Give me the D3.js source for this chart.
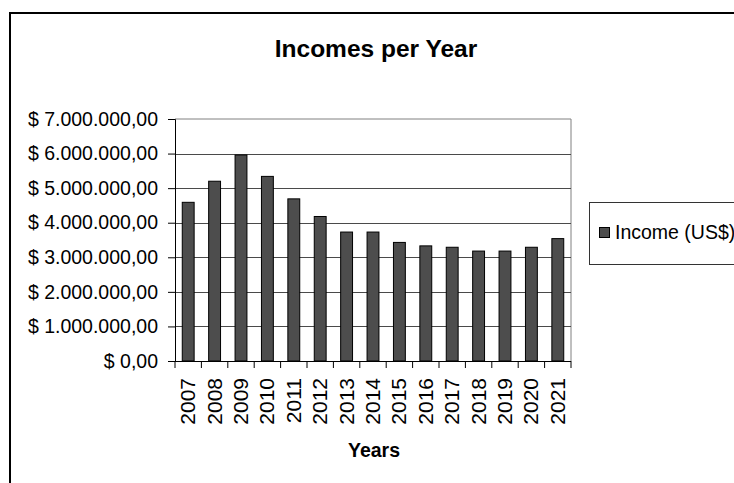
<!DOCTYPE html>
<html>
<head>
<meta charset="utf-8">
<script src="https://cdn.jsdelivr.net/npm/d3@7"></script>
<style>
  html, body { margin: 0; padding: 0; background: #fff; }
  svg { display: block; font-family: "Liberation Sans", Arial, sans-serif; }
</style>
</head>
<body>
<svg id="chart" width="734" height="483"></svg>
<script>
// Yearly income figures (US$)
const years = ["2007", "2008", "2009", "2010", "2011", "2012", "2013", "2014",
               "2015", "2016", "2017", "2018", "2019", "2020", "2021"];
const income = [4590000, 5200000, 5960000, 5340000, 4690000, 4180000, 3730000, 3730000,
                3430000, 3330000, 3290000, 3180000, 3180000, 3290000, 3540000];
const yTicks = [0, 1000000, 2000000, 3000000, 4000000, 5000000, 6000000, 7000000];
const seriesName = "Income (US$)";
const titleText = "Incomes per Year";
const xTitle = "Years";

const svg = d3.select("#chart");
const W = 734, H = 483;
const plot = { left: 175, right: 571, top: 119, bottom: 361 };

// Currency format: "$ 7.000.000,00"
const locale = d3.formatLocale({ decimal: ",", thousands: ".", grouping: [3], currency: ["$ ", ""] });
const fmt = locale.format("$,.2f");

const x = d3.scaleBand().domain(years).range([plot.left, plot.right]).padding(0);
const y = d3.scaleLinear().domain([0, 7000000]).range([plot.bottom, plot.top]);

svg.append("rect").attr("width", W).attr("height", H).attr("fill", "#fff");

// Outer chart frame
svg.append("rect")
  .attr("x", 10).attr("y", 13).attr("width", 740).attr("height", 480)
  .attr("fill", "none").attr("stroke", "#000").attr("stroke-width", 2);

// Title
svg.append("text")
  .attr("x", 376).attr("y", 56.5)
  .attr("text-anchor", "middle")
  .attr("font-size", 24.5).attr("font-weight", "bold")
  .text(titleText);

// Plot area border (top and right in gray)
svg.append("path")
  .attr("d", `M${plot.left},${plot.top}H${plot.right}V${plot.bottom}`)
  .attr("fill", "none").attr("stroke", "#808080").attr("stroke-width", 1);

// Horizontal gridlines
svg.append("g").selectAll("line")
  .data(yTicks.filter(d => d > 0 && d < 7000000))
  .join("line")
  .attr("x1", plot.left).attr("x2", plot.right)
  .attr("y1", d => Math.round(y(d)) + 0.5).attr("y2", d => Math.round(y(d)) + 0.5)
  .attr("stroke", "#4a4a4a").attr("stroke-width", 1);

// Bars
const barW = x.bandwidth() * 0.45;
svg.append("g").selectAll("rect")
  .data(income)
  .join("rect")
  .attr("x", (d, i) => x(years[i]) + (x.bandwidth() - barW) / 2)
  .attr("y", d => y(d))
  .attr("width", barW)
  .attr("height", d => y(0) - y(d))
  .attr("fill", "#4d4d4d")
  .attr("stroke", "#000").attr("stroke-width", 1);

// Y axis
const yAxis = d3.axisLeft(y).tickValues(yTicks).tickFormat(fmt).tickSize(7).tickPadding(10);
const gy = svg.append("g").attr("transform", `translate(${plot.left},0)`).call(yAxis);
gy.select(".domain").attr("stroke", "#000");
gy.selectAll(".tick line").attr("stroke", "#000");
gy.selectAll(".tick text")
  .attr("font-size", 19.5).attr("font-family", "'Liberation Sans', Arial, sans-serif")
  .attr("fill", "#000");

// X axis: ticks at category boundaries
svg.append("line")
  .attr("x1", plot.left).attr("x2", plot.right)
  .attr("y1", plot.bottom + 0.5).attr("y2", plot.bottom + 0.5)
  .attr("stroke", "#000");
const bounds = years.map(d => x(d)).concat([x(years[years.length - 1]) + x.bandwidth()]);
svg.append("g").selectAll("line")
  .data(bounds)
  .join("line")
  .attr("x1", d => d).attr("x2", d => d)
  .attr("y1", plot.bottom).attr("y2", plot.bottom + 7)
  .attr("stroke", "#000");

// Rotated year labels
svg.append("g").selectAll("text")
  .data(years)
  .join("text")
  .attr("transform", d => `translate(${x(d) + x.bandwidth() / 2 + 7},${plot.bottom + 17}) rotate(-90)`)
  .attr("text-anchor", "end")
  .attr("font-size", 21)
  .text(d => d);

// X axis title
svg.append("text")
  .attr("x", 374).attr("y", 456.5)
  .attr("text-anchor", "middle")
  .attr("font-size", 19.5).attr("font-weight", "bold")
  .text(xTitle);

// Legend
const lg = svg.append("g");
lg.append("rect")
  .attr("x", 589.5).attr("y", 202.5).attr("width", 160).attr("height", 62)
  .attr("fill", "#fff").attr("stroke", "#333").attr("stroke-width", 1);
lg.append("rect")
  .attr("x", 599.5).attr("y", 227.5).attr("width", 10).attr("height", 10)
  .attr("fill", "#4d4d4d").attr("stroke", "#000");
lg.append("text")
  .attr("x", 615).attr("y", 238.5)
  .attr("font-size", 19.5)
  .text(seriesName);
</script>
</body>
</html>
